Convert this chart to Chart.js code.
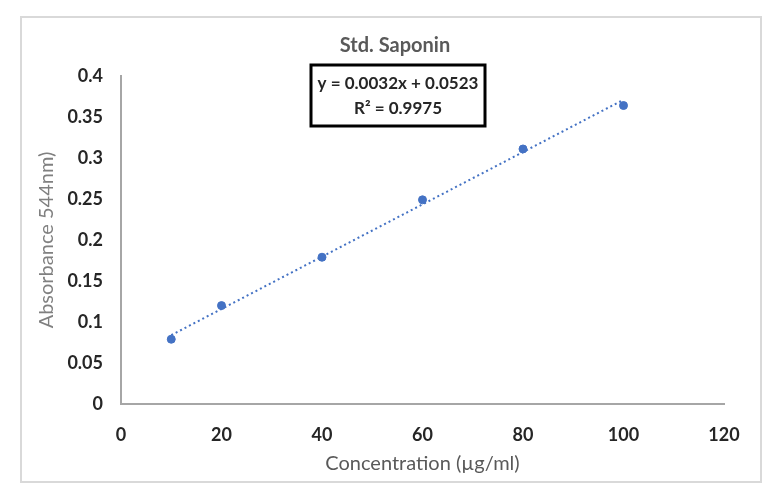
<!DOCTYPE html>
<html>
<head>
<meta charset="utf-8">
<script src="https://cdn.jsdelivr.net/npm/chart.js@4.4.0/dist/chart.umd.min.js"></script>
<style>
    html, body { margin: 0; padding: 0; background: #ffffff; }
    #wrap { width: 765px; height: 494px; }
</style>
</head>
<body>
<div id="wrap"><canvas id="saponin-chart" width="765" height="494"></canvas></div>
<script>
// values
const concentration = [10, 20, 40, 60, 80, 100];
const absorbance = [0.079, 0.120, 0.179, 0.249, 0.311, 0.364];
const trendX = [10, 100];
const trendY = [0.084, 0.371];
const xTicks = [0, 20, 40, 60, 80, 100, 120];
const yTicks = [0, 0.05, 0.1, 0.15, 0.2, 0.25, 0.3, 0.35, 0.4];
const chartTitle = 'Std. Saponin';
const equationLines = ['y = 0.0032x + 0.0523', 'R\u00b2 = 0.9975'];

const fontFamily = 'Lato, "Open Sans", sans-serif';
const blue = '#4472c4';

// frame, title and the equation box
const decorations = {
    id: 'decorations',
    beforeDraw(chart) {
        const ctx = chart.ctx;
        ctx.save();
        ctx.fillStyle = '#ffffff';
        ctx.fillRect(0, 0, chart.width, chart.height);
        ctx.strokeStyle = '#d9d9d9';
        ctx.lineWidth = 2;
        ctx.strokeRect(21, 17, 740, 465);
        ctx.restore();
    },
    afterDraw(chart) {
        const ctx = chart.ctx;
        ctx.save();
        ctx.textAlign = 'center';
        ctx.textBaseline = 'middle';
        ctx.fillStyle = '#595959';
        ctx.font = 'bold 20px ' + fontFamily;
        ctx.fillText(chartTitle, 395, 46);

        ctx.fillStyle = '#ffffff';
        ctx.fillRect(311, 65, 174, 61);
        ctx.strokeStyle = '#000000';
        ctx.lineWidth = 3;
        ctx.strokeRect(311, 65, 174, 61);
        ctx.fillStyle = '#262626';
        ctx.font = 'bold 17px ' + fontFamily;
        ctx.fillText(equationLines[0], 398, 84);
        ctx.fillText(equationLines[1], 398, 109);
        ctx.restore();
    }
};

const ctx = document.getElementById('saponin-chart').getContext('2d');
new Chart(ctx, {
    type: 'scatter',
    data: {
        datasets: [{
            label: 'Trendline',
            data: trendX.map((x, i) => ({x: x, y: trendY[i]})),
            showLine: true,
            borderColor: blue,
            borderWidth: 2,
            borderDash: [2, 3],
            pointRadius: 0,
            fill: false,
            order: 2
        }, {
            label: 'Std. Saponin',
            data: concentration.map((x, i) => ({x: x, y: absorbance[i]})),
            backgroundColor: blue,
            borderColor: blue,
            pointRadius: 4,
            pointStyle: 'circle',
            order: 1
        }]
    },
    options: {
        responsive: false,
        animation: false,
        layout: {
            padding: {left: 25, right: 41, top: 76, bottom: 0}
        },
        plugins: {
            legend: {display: false},
            tooltip: {enabled: false},
            title: {display: false}
        },
        scales: {
            x: {
                type: 'linear',
                min: 0,
                max: 120,
                afterBuildTicks: (scale) => { scale.ticks = xTicks.map(v => ({value: v})); },
                afterFit: (scale) => { scale.height = 90; },
                grid: {display: false, drawTicks: false},
                border: {display: true, color: '#a6a6a6', width: 2},
                ticks: {
                    padding: 20,
                    color: '#262626',
                    font: {family: fontFamily, size: 18, weight: 'bold'}
                },
                title: {
                    display: true,
                    text: 'Concentration (\u00b5g/ml)',
                    color: '#595959',
                    font: {family: fontFamily, size: 20},
                    padding: {top: 6, bottom: 18}
                }
            },
            y: {
                type: 'linear',
                min: 0,
                max: 0.4,
                afterBuildTicks: (scale) => { scale.ticks = yTicks.map(v => ({value: v})); },
                afterFit: (scale) => { scale.width = 96; },
                grid: {display: false, drawTicks: false},
                border: {display: true, color: '#a6a6a6', width: 2},
                ticks: {
                    padding: 18,
                    color: '#262626',
                    font: {family: fontFamily, size: 18, weight: 'bold'},
                    callback: (v) => String(v)
                },
                title: {
                    display: true,
                    text: 'Absorbance 544nm)',
                    color: '#808080',
                    font: {family: fontFamily, size: 20},
                    padding: {top: 10, bottom: 4}
                }
            }
        }
    },
    plugins: [decorations]
});
</script>
</body>
</html>
